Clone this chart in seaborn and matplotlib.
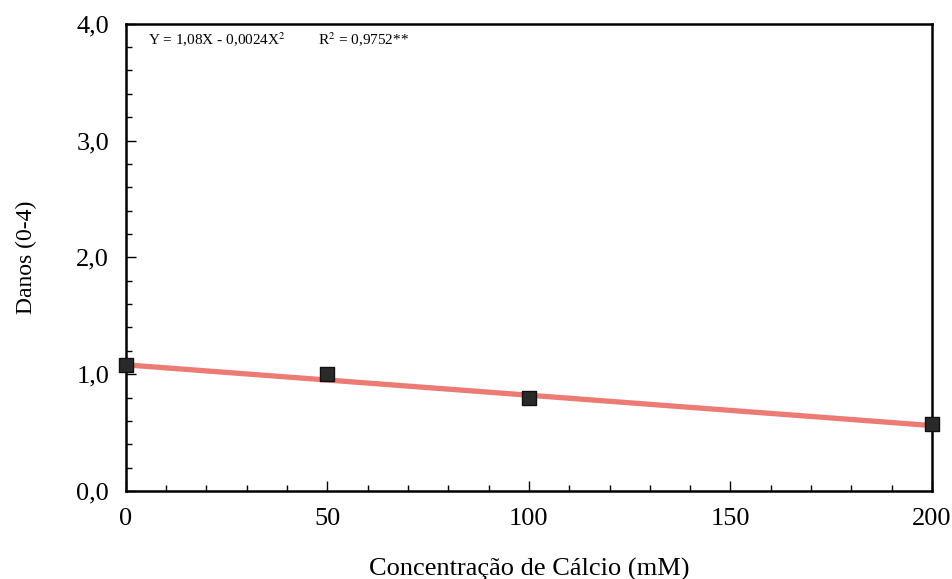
import matplotlib
matplotlib.use("Agg")
import matplotlib.pyplot as plt
import seaborn as sns
import pandas as pd
from matplotlib.ticker import MultipleLocator, FuncFormatter

# dados
calcio = [0, 50, 100, 200]
danos = [1.08, 1.00, 0.80, 0.57]
ajuste_x = [0, 200]
ajuste_y = [1.08, 0.56]
equacao = "Y = 1,08X - 0,0024X$^2$"
r2 = "R$^2$ = 0,9752**"

sns.set_theme(style="ticks")
plt.rcParams["font.family"] = ["Liberation Serif", "DejaVu Serif"]
plt.rcParams["mathtext.fontset"] = "stix"
plt.rcParams["text.color"] = "black"
plt.rcParams["axes.labelcolor"] = "black"

df = pd.DataFrame({"calcio": calcio, "danos": danos})

fig = plt.figure(figsize=(9.53, 5.79), dpi=100)
ax = fig.add_axes([0.132, 0.152, 0.846, 0.807])

sns.lineplot(x=ajuste_x, y=ajuste_y, ax=ax, color="#e8645a", linewidth=3.8,
             alpha=0.85, zorder=2)
sns.scatterplot(data=df, x="calcio", y="danos", ax=ax, marker="s", s=110,
                color="#2a2a2a", edgecolor="#111111", linewidth=1, zorder=3,
                clip_on=False)

ax.set_xlim(0, 200)
ax.set_ylim(0, 4)
ax.xaxis.set_major_locator(MultipleLocator(50))
ax.xaxis.set_minor_locator(MultipleLocator(10))
ax.yaxis.set_major_locator(MultipleLocator(1))
ax.yaxis.set_minor_locator(MultipleLocator(0.2))
ax.yaxis.set_major_formatter(FuncFormatter(lambda v, p: f"{v:.1f}".replace(".", ",")))
ax.tick_params(which="both", direction="in", top=False, right=False,
               labelsize=19, colors="black")
ax.tick_params(which="major", length=7, width=1, pad=12)
ax.tick_params(which="minor", length=4, width=1)

for s in ax.spines.values():
    s.set_visible(True)
    s.set_color("black")
    s.set_linewidth(1.8)

ax.set_xlabel("Concentração de Cálcio (mM)", fontsize=19, labelpad=20)
ax.set_ylabel("Danos (0-4)", fontsize=17, labelpad=28)

ax.text(0.028, 0.985, equacao, transform=ax.transAxes, fontsize=11, va="top")
ax.text(0.238, 0.985, r2, transform=ax.transAxes, fontsize=11, va="top")

fig.savefig("out.png", dpi=100)
